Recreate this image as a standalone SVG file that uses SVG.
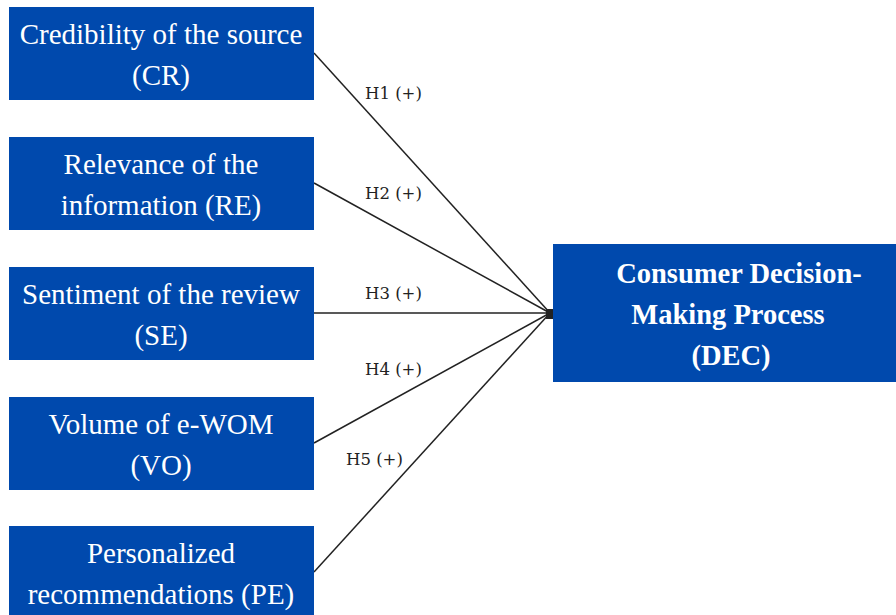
<svg xmlns="http://www.w3.org/2000/svg" width="896" height="615" viewBox="0 0 896 615">
<style>
.box{fill:#0049ad;}
.t{fill:#fff;font-family:'Liberation Serif','Times New Roman',serif;font-size:29px;text-anchor:middle;}
.b{font-weight:bold;font-size:28.5px;}
.lbl{fill:#222;font-family:'DejaVu Serif',serif;font-size:16.5px;}
.c{stroke:#222;stroke-width:1.5;fill:none;}
</style>
<rect width="896" height="615" fill="#fff"/>
<g id="connectors">
<line class="c" x1="314" y1="53" x2="550" y2="313"/>
<line class="c" x1="314" y1="183" x2="550" y2="313"/>
<line class="c" x1="314" y1="313" x2="550" y2="313"/>
<line class="c" x1="314" y1="443" x2="550" y2="313"/>
<line class="c" x1="314" y1="572" x2="550" y2="313"/>
<rect x="546" y="309" width="7" height="10" fill="#222"/>
<text class="lbl" x="365" y="99">H1 (+)</text>
<text class="lbl" x="365" y="199">H2 (+)</text>
<text class="lbl" x="365" y="299">H3 (+)</text>
<text class="lbl" x="365" y="375">H4 (+)</text>
<text class="lbl" x="346" y="465">H5 (+)</text>
</g>
<g id="CR">
<rect class="box" x="9" y="7" width="305" height="93"/>
<text class="t" x="161" y="44">Credibility of the source</text>
<text class="t" x="161" y="85">(CR)</text>
</g>
<g id="RE">
<rect class="box" x="9" y="137" width="305" height="93"/>
<text class="t" x="161" y="174">Relevance of the</text>
<text class="t" x="161" y="215">information (RE)</text>
</g>
<g id="SE">
<rect class="box" x="9" y="267" width="305" height="93"/>
<text class="t" x="161" y="304">Sentiment of the review</text>
<text class="t" x="161" y="345">(SE)</text>
</g>
<g id="VO">
<rect class="box" x="9" y="397" width="305" height="93"/>
<text class="t" x="161" y="434">Volume of e-WOM</text>
<text class="t" x="161" y="475">(VO)</text>
</g>
<g id="PE">
<rect class="box" x="9" y="526" width="305" height="93"/>
<text class="t" x="161" y="563">Personalized</text>
<text class="t" x="161" y="604">recommendations (PE)</text>
</g>
<g id="DEC">
<rect class="box" x="553" y="244" width="345" height="138"/>
<text class="t b" x="739" y="283">Consumer Decision-</text>
<text class="t b" x="728" y="324">Making Process</text>
<text class="t b" x="731" y="365">(DEC)</text>
</g>
</svg>
